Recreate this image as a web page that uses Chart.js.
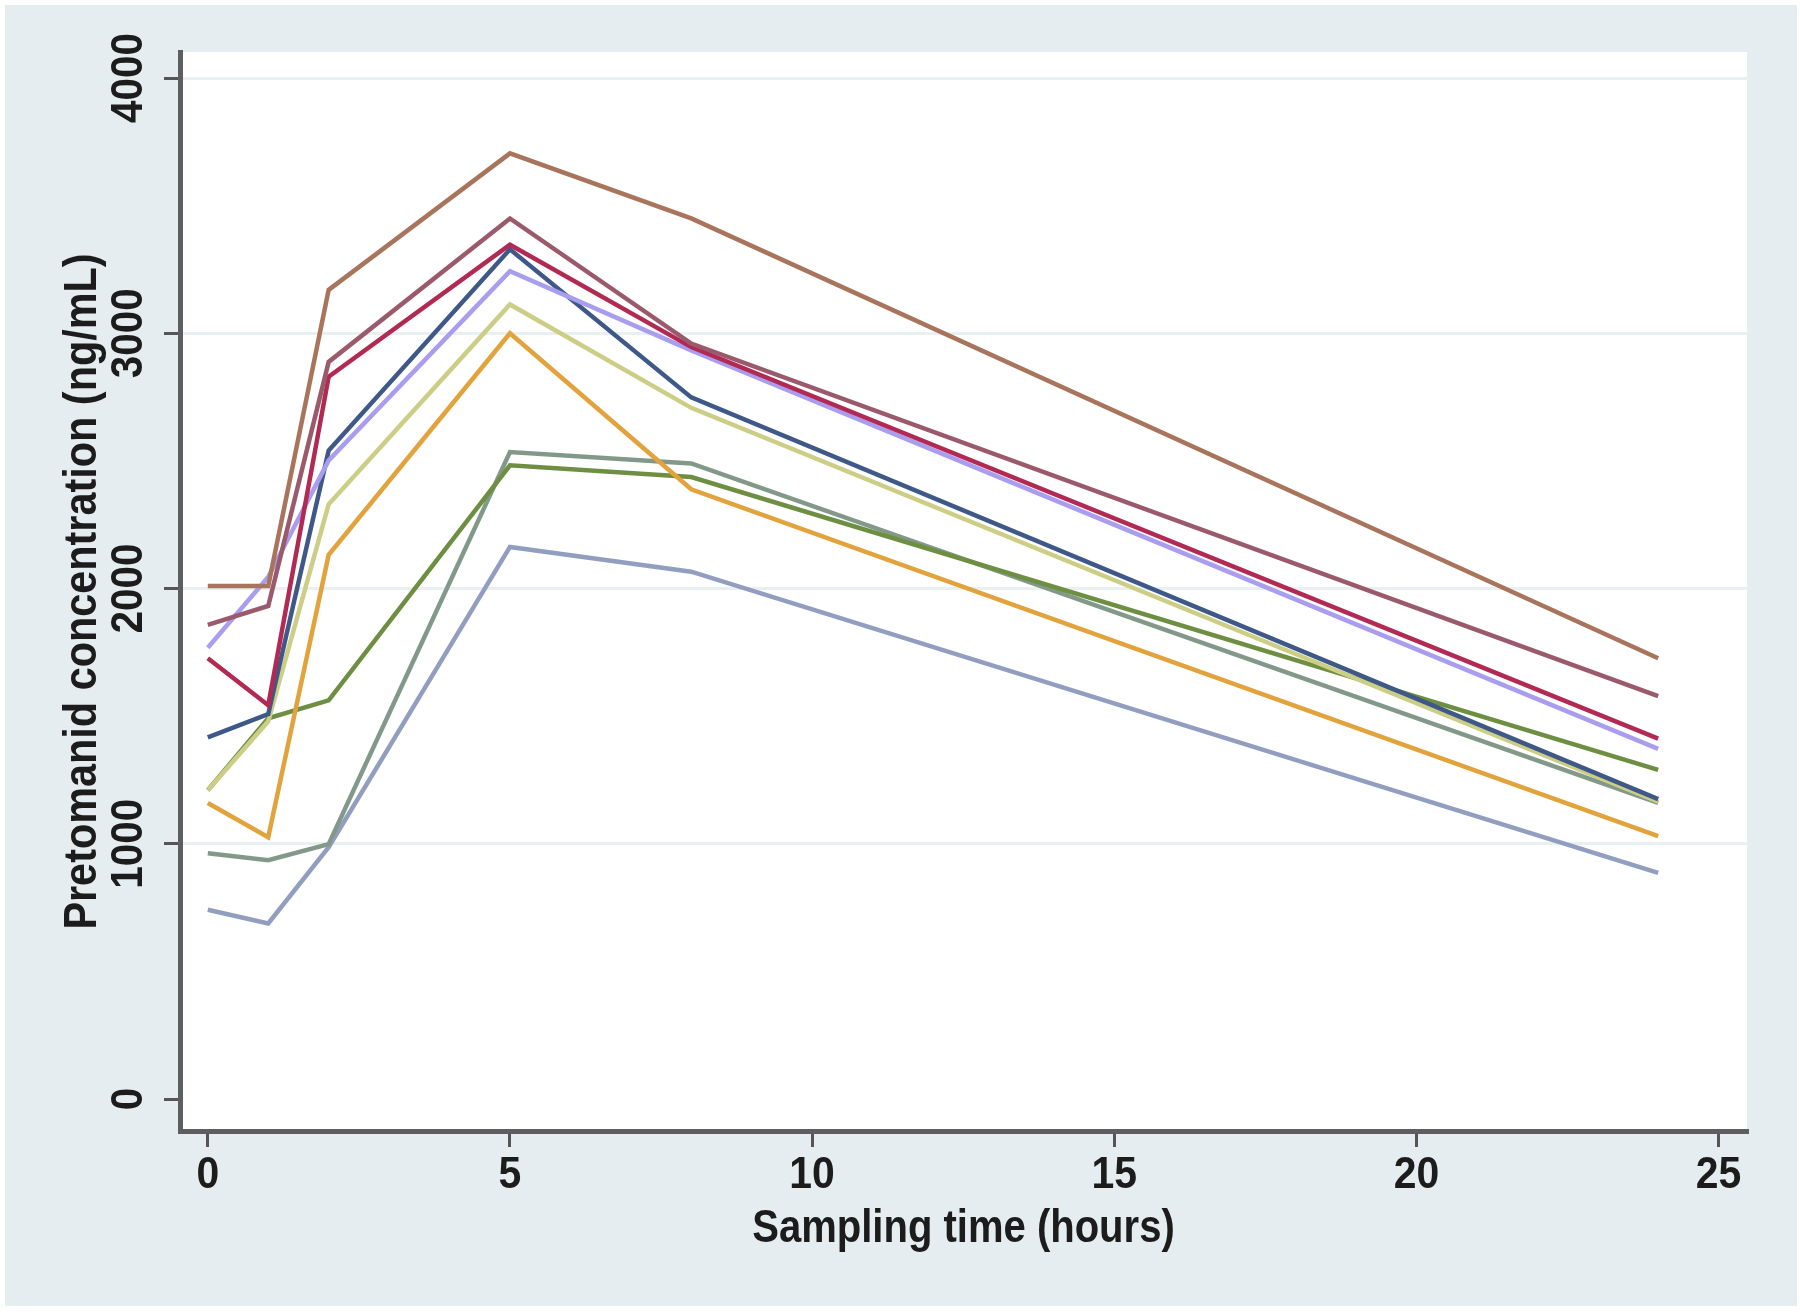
<!DOCTYPE html>
<html>
<head>
<meta charset="utf-8">
<script src="https://cdn.jsdelivr.net/npm/chart.js@4.4.0/dist/chart.umd.min.js"></script>
<style>
  html, body { margin: 0; padding: 0; background: #ffffff; }
  #wrap { width: 1800px; height: 1312px; position: relative; }
</style>
</head>
<body>
<div id="wrap"><canvas id="c"></canvas></div>
<script>
// ---- data ----
const times = [0, 1, 2, 5, 8, 24];
const xTickValues = [0, 5, 10, 15, 20, 25];
const xTickLabels = ['0', '5', '10', '15', '20', '25'];
const yTickValues = [0, 1000, 2000, 3000, 4000];
const yTickLabels = ['0', '1000', '2000', '3000', '4000'];
const xTitle = 'Sampling time (hours)';
const yTitle = 'Pretomanid concentration (ng/mL)';

const brown     = [2010, 2010, 3170, 3705, 3450, 1727];
const mauve     = [1858, 1932, 2888, 3450, 2960, 1579];
const crimson   = [1727, 1543, 2830, 3347, 2946, 1412];
const lavender  = [1768, 2045, 2502, 3243, 2933, 1372];
const navy      = [1417, 1508, 2541, 3329, 2749, 1175];
const khaki     = [1210, 1480, 2330, 3113, 2708, 1165];
const orange    = [1160, 1026, 2132, 3000, 2389, 1030];
const green     = [1210, 1492, 1562, 2483, 2437, 1290];
const grayGreen = [963, 936, 999, 2535, 2490, 1160];
const grayBlue  = [742, 688, 987, 2163, 2066, 886];

const seriesList = [brown, mauve, crimson, lavender, navy, khaki, orange, green, grayGreen, grayBlue];
const seriesColors = ['#a8745b', '#9a5a6b', '#b22a53', '#a99df0', '#3e5887', '#cbce84', '#e2a23c', '#6e8f42', '#82998a', '#929ebf'];

const FONT = "'Liberation Sans', Arial, sans-serif";
const TEXT = '#1c1c1c';

const datasets = seriesList.map((vals, i) => ({
  data: times.map((t, j) => ({ x: t, y: vals[j] })),
  borderColor: seriesColors[i],
  backgroundColor: seriesColors[i],
  borderWidth: 4.5,
  pointRadius: 0,
  tension: 0,
  fill: false
}));

function drawLabel(ctx, text, x, y, rot, size, sx) {
  ctx.save();
  ctx.translate(x, y);
  if (rot) ctx.rotate(rot);
  ctx.scale(sx, 1);
  ctx.font = 'bold ' + size + 'px ' + FONT;
  ctx.fillStyle = TEXT;
  ctx.textAlign = 'center';
  ctx.textBaseline = 'alphabetic';
  ctx.fillText(text, 0, 0);
  ctx.restore();
}

const bgPlugin = {
  id: 'bg',
  beforeDraw(chart) {
    const ctx = chart.ctx;
    const a = chart.chartArea;
    ctx.save();
    ctx.fillStyle = '#ffffff';
    ctx.fillRect(0, 0, chart.width, chart.height);
    ctx.fillStyle = '#e6edf0';
    ctx.fillRect(5, 5, chart.width - 8, chart.height - 11);
    ctx.fillStyle = '#ffffff';
    ctx.fillRect(a.left, a.top, a.right - a.left, a.bottom - a.top);
    ctx.restore();
  },
  afterDraw(chart) {
    const ctx = chart.ctx;
    const xs = chart.scales.x;
    const ys = chart.scales.y;
    const a = chart.chartArea;
    // y tick labels (rotated, read bottom-to-top)
    yTickValues.forEach((v, i) => {
      drawLabel(ctx, yTickLabels[i], 142, ys.getPixelForValue(v), -Math.PI / 2, 44, 0.92);
    });
    // x tick labels
    xTickValues.forEach((v, i) => {
      drawLabel(ctx, xTickLabels[i], xs.getPixelForValue(v), 1188, 0, 44, 0.93);
    });
    // axis titles
    drawLabel(ctx, xTitle, (a.left + a.right) / 2, 1242, 0, 46, 0.87);
    drawLabel(ctx, yTitle, 96, (a.top + a.bottom) / 2, -Math.PI / 2, 46, 0.9);
  }
};

new Chart(document.getElementById('c'), {
  type: 'line',
  data: { datasets },
  options: {
    responsive: true,
    maintainAspectRatio: false,
    animation: false,
    layout: { padding: { top: 52, right: 53, left: 0, bottom: 0 } },
    plugins: { legend: { display: false }, tooltip: { enabled: false } },
    scales: {
      x: {
        type: 'linear',
        min: -0.46,
        max: 25.47,
        afterBuildTicks(s) { s.ticks = xTickValues.map(v => ({ value: v })); },
        afterFit(s) { s.height = 181; },
        border: { color: '#5e5e5e', width: 5 },
        grid: { drawOnChartArea: false, tickLength: 16, tickColor: '#555555', lineWidth: 3 },
        ticks: { display: false },
        title: { display: false }
      },
      y: {
        type: 'linear',
        min: -125,
        max: 4102,
        afterBuildTicks(s) { s.ticks = yTickValues.map(v => ({ value: v })); },
        afterFit(s) { s.width = 180; },
        border: { color: '#5e5e5e', width: 5 },
        grid: {
          color: (c) => (c.tick && c.tick.value === 0) ? 'rgba(0,0,0,0)' : '#e9f0f2',
          lineWidth: 3,
          tickLength: 16,
          tickColor: '#555555',
          tickWidth: 3
        },
        ticks: { display: false },
        title: { display: false }
      }
    }
  },
  plugins: [bgPlugin]
});
</script>
</body>
</html>
